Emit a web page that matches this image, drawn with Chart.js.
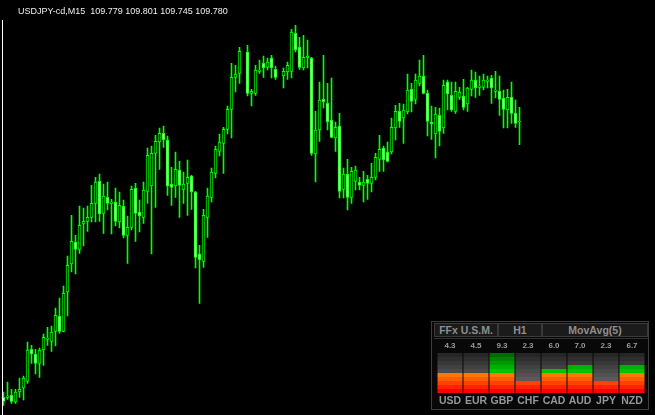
<!DOCTYPE html>
<html>
<head>
<meta charset="utf-8">
<script src="https://cdn.jsdelivr.net/npm/chart.js@4.4.1/dist/chart.umd.min.js"></script>
<style>
    html, body { margin: 0; padding: 0; background: #000; }
    body { width: 655px; height: 415px; position: relative; overflow: hidden; }
    #priceChart { position: absolute; left: 0; top: 0; }
    #leftEdge { position: absolute; left: 2px; top: 20px; width: 1px; height: 395px; background: #fff; }
    #symbolInfo { position: absolute; left: 18px; top: 6px; font: 9px "Liberation Sans", Arial, sans-serif;
        line-height: 11px; color: #eeeeee; white-space: pre; }
    .frame { position: absolute; left: 431px; top: 321px; width: 218px; height: 89px; box-sizing: border-box;
        border: 1px solid #3c3c3c; background: #080808; }
    .cell { position: absolute; top: 323px; height: 14px; box-sizing: border-box; border: 1px solid #3a3a3a;
        background: #1b1b1b; color: #8e8e8e; font: bold 10.5px "Liberation Sans", Arial, sans-serif;
        line-height: 12px; text-align: center; }
    .sep { position: absolute; left: 434px; top: 338px; width: 214px; height: 1px; background: #303030; }
    #ffxChart { position: absolute; left: 436px; top: 340px; }
</style>
</head>
<body>
<canvas id="priceChart" width="655" height="415"></canvas>
<div id="leftEdge"></div>
<div id="symbolInfo">USDJPY-cd,M15  109.779 109.801 109.745 109.780</div>

<div class="frame"></div>
<div class="cell" style="left:434px;width:64px;">FFx U.S.M.</div>
<div class="cell" style="left:498px;width:44px;">H1</div>
<div class="cell" style="left:542px;width:106px;">MovAvg(5)</div>
<div class="sep"></div>
<canvas id="ffxChart" width="210" height="70"></canvas>

<script>
// USDJPY M15 candles, oldest first (two missing bars left as null)
const opens = [
    109.366, 109.366, 109.369, 109.359, 109.374, 109.380, 109.390, 109.438, 109.431, 109.417,
    109.437, 109.453, 109.450, 109.465, 109.488, 109.465, 109.524, 109.566, 109.599, 109.588,
    109.626, 109.630, 109.636, 109.657, 109.690, 109.642, 109.666, 109.657, 109.659, 109.629,
    109.653, 109.609, 109.621, 109.680, 109.644, 109.636, 109.675, 109.683, 109.732, 109.749,
    109.762, 109.752, 109.686, 109.683, 109.707, 109.678, 109.687, 109.698, 109.674, 109.581,
    109.570, 109.636, 109.666, 109.702, 109.735, 109.747, 109.768, 109.798, 109.846, 109.852,
    null, 109.884, 109.822, 109.822, 109.855, 109.867, 109.861, 109.875, 109.858, null,
    109.848, 109.854, 109.855, 109.912, 109.891, 109.860, 109.875, 109.875, 109.731, 109.767,
    109.813, 109.807, 109.782, 109.755, 109.773, 109.678, 109.701, 109.666, 109.690, 109.689,
    109.684, 109.693, 109.687, 109.696, 109.723, 109.740, 109.734, 109.734, 109.770, 109.795,
    109.785, 109.794, 109.828, 109.813, 109.837, 109.848, 109.822, 109.779, 109.761, 109.789,
    109.770, 109.839, 109.819, 109.795, 109.816, 109.818, 109.806, 109.828, 109.842, 109.831,
    109.831, 109.840, 109.845, 109.825, 109.825, 109.815, 109.797, 109.816, 109.792, 109.779
];
const highs = [
    109.374, 109.389, 109.378, 109.378, 109.395, 109.398, 109.449, 109.444, 109.438, 109.440,
    109.461, 109.471, 109.473, 109.500, 109.515, 109.533, 109.578, 109.639, 109.609, 109.653,
    109.650, 109.653, 109.684, 109.696, 109.701, 109.686, 109.689, 109.663, 109.680, 109.674,
    109.662, 109.638, 109.683, 109.687, 109.662, 109.689, 109.740, 109.743, 109.759, 109.770,
    109.773, 109.758, 109.711, 109.734, 109.720, 109.704, 109.722, 109.699, 109.675, 109.594,
    109.648, 109.680, 109.710, 109.743, 109.761, 109.771, 109.803, 109.867, 109.864, 109.891,
    null, 109.894, 109.828, 109.864, 109.872, 109.878, 109.875, 109.879, 109.863, null,
    109.860, 109.869, 109.918, 109.924, 109.906, 109.909, 109.902, 109.876, 109.795, 109.839,
    109.879, 109.837, 109.845, 109.779, 109.792, 109.710, 109.723, 109.711, 109.713, 109.696,
    109.705, 109.699, 109.717, 109.732, 109.759, 109.743, 109.749, 109.785, 109.804, 109.807,
    109.806, 109.851, 109.837, 109.851, 109.872, 109.879, 109.827, 109.803, 109.801, 109.800,
    109.842, 109.842, 109.839, 109.839, 109.831, 109.843, 109.831, 109.857, 109.854, 109.848,
    109.851, 109.848, 109.849, 109.855, 109.848, 109.827, 109.828, 109.839, 109.812, 109.801
];
const lows = [
    109.354, 109.363, 109.357, 109.357, 109.366, 109.362, 109.387, 109.417, 109.401, 109.396,
    109.414, 109.444, 109.435, 109.443, 109.462, 109.464, 109.488, 109.554, 109.551, 109.582,
    109.593, 109.615, 109.629, 109.629, 109.630, 109.612, 109.647, 109.611, 109.623, 109.620,
    109.605, 109.567, 109.617, 109.600, 109.614, 109.627, 109.657, 109.581, 109.651, 109.708,
    109.741, 109.669, 109.654, 109.666, 109.636, 109.657, 109.639, 109.648, 109.560, 109.507,
    109.561, 109.606, 109.659, 109.695, 109.728, 109.702, 109.761, 109.755, 109.824, 109.837,
    null, 109.818, 109.803, 109.819, 109.852, 109.846, 109.857, 109.845, 109.843, null,
    109.830, 109.843, 109.845, 109.884, 109.858, 109.857, 109.860, 109.729, 109.689, 109.750,
    109.800, 109.767, 109.755, 109.735, 109.665, 109.665, 109.647, 109.657, 109.677, 109.677,
    109.659, 109.663, 109.674, 109.692, 109.705, 109.705, 109.719, 109.731, 109.752, 109.771,
    109.747, 109.791, 109.794, 109.806, 109.833, 109.821, 109.758, 109.753, 109.725, 109.743,
    109.762, 109.797, 109.795, 109.792, 109.813, 109.797, 109.795, 109.818, 109.816, 109.819,
    109.827, 109.830, 109.807, 109.815, 109.789, 109.770, 109.770, 109.777, 109.771, 109.745
];
const closes = [
    109.360, 109.368, 109.360, 109.374, 109.378, 109.395, 109.437, 109.431, 109.417, 109.437,
    109.456, 109.455, 109.464, 109.489, 109.465, 109.522, 109.564, 109.600, 109.588, 109.624,
    109.630, 109.636, 109.657, 109.689, 109.641, 109.668, 109.657, 109.659, 109.630, 109.654,
    109.609, 109.621, 109.678, 109.642, 109.638, 109.677, 109.729, 109.732, 109.750, 109.762,
    109.752, 109.683, 109.681, 109.708, 109.684, 109.686, 109.696, 109.674, 109.576, 109.572,
    109.639, 109.668, 109.704, 109.738, 109.749, 109.768, 109.798, 109.846, 109.851, 109.885,
    null, 109.822, 109.825, 109.857, 109.857, 109.860, 109.869, 109.860, 109.846, null,
    109.855, 109.864, 109.914, 109.887, 109.861, 109.876, 109.878, 109.732, 109.767, 109.812,
    109.809, 109.779, 109.756, 109.771, 109.675, 109.701, 109.666, 109.705, 109.707, 109.684,
    109.689, 109.687, 109.696, 109.726, 109.738, 109.722, 109.720, 109.771, 109.795, 109.780,
    109.797, 109.827, 109.810, 109.842, 109.848, 109.822, 109.780, 109.776, 109.791, 109.765,
    109.834, 109.821, 109.797, 109.825, 109.824, 109.801, 109.830, 109.842, 109.830, 109.833,
    109.842, 109.842, 109.830, 109.827, 109.813, 109.798, 109.816, 109.792, 109.777, 109.780
];

// currency strength panel
const currencies = ['USD', 'EUR', 'GBP', 'CHF', 'CAD', 'AUD', 'JPY', 'NZD'];
const strength = [4.3, 4.5, 9.3, 2.3, 6.0, 7.0, 2.3, 6.7];

const CANDLE_LINE = '#00ff00';
const BULL_FILL = '#000000';
const BEAR_FILL = '#c8ffc8';

const barLabels = opens.map((_, i) => i);
const wickData = lows.map((low, i) => low === null ? null : [low, highs[i]]);
const bodyData = opens.map((open, i) => open === null ? null : [open, closes[i]]);
const bodyFill = opens.map((open, i) => closes[i] >= open ? BULL_FILL : BEAR_FILL);

const priceChart = new Chart(document.getElementById('priceChart'), {
    type: 'bar',
    data: {
        labels: barLabels,
        datasets: [{
            label: 'wick',
            data: wickData,
            backgroundColor: CANDLE_LINE,
            barThickness: 1,
            grouped: false,
            order: 2
        }, {
            label: 'body',
            data: bodyData,
            backgroundColor: bodyFill,
            borderColor: CANDLE_LINE,
            borderWidth: 1,
            borderSkipped: false,
            barThickness: 3,
            minBarLength: 1,
            grouped: false,
            order: 1
        }]
    },
    options: {
        responsive: false,
        animation: false,
        devicePixelRatio: 1,
        layout: { padding: { left: 1.5, right: 133.5, top: 0, bottom: 0 } },
        plugins: {
            legend: { display: false },
            tooltip: { enabled: false }
        },
        scales: {
            x: { display: false, offset: true },
            y: { display: false, min: 109.3395, max: 109.962 }
        }
    }
});

// panel colours, bottom segment first
const levelColors = ['#ff0000', '#ff2200', '#ff4200', '#ff5e00', '#ff7800',
                     '#00c400', '#00b000', '#009a00', '#008200', '#006a00'];
const grayColors = ['#727272', '#6a6a6a', '#626262', '#5a5a5a', '#525252',
                    '#4a4a4a', '#414141', '#383838', '#2f2f2f', '#262626'];

function stepGradient(chart, colors) {
    const area = chart.chartArea;
    if (!area) return colors[0];
    const g = chart.ctx.createLinearGradient(0, area.bottom, 0, area.top);
    colors.forEach((c, i) => {
        g.addColorStop(i / colors.length, c);
        g.addColorStop((i + 1) / colors.length - 0.001, c);
    });
    return g;
}

const filledSegments = strength.map(v => Math.ceil(v));
const emptySegments = filledSegments.map(n => 10 - n);

const panelFont = { family: 'Liberation Sans', weight: 'bold' };

const ffxChart = new Chart(document.getElementById('ffxChart'), {
    type: 'bar',
    data: {
        labels: currencies,
        datasets: [{
            data: filledSegments,
            backgroundColor: ctx => stepGradient(ctx.chart, levelColors)
        }, {
            data: emptySegments,
            backgroundColor: ctx => stepGradient(ctx.chart, grayColors)
        }]
    },
    options: {
        responsive: false,
        animation: false,
        devicePixelRatio: 1,
        layout: { padding: { left: 1, right: 1, top: 0, bottom: 0 } },
        datasets: { bar: { categoryPercentage: 1, barPercentage: 25 / 26, borderWidth: 0 } },
        plugins: {
            legend: { display: false },
            tooltip: { enabled: false }
        },
        scales: {
            x: {
                stacked: true,
                offset: true,
                grid: { display: false, drawTicks: false },
                border: { display: false },
                ticks: {
                    color: '#969696', padding: 2, autoSkip: false,
                    minRotation: 0, maxRotation: 0,
                    font: { ...panelFont, size: 10.5 }
                },
                afterFit: scale => { scale.height = 17; }
            },
            top: {
                type: 'category',
                position: 'top',
                labels: strength.map(v => v.toFixed(1)),
                offset: true,
                grid: { display: false, drawTicks: false },
                border: { display: false },
                ticks: {
                    color: '#9a9a9a', padding: 2, autoSkip: false,
                    minRotation: 0, maxRotation: 0,
                    font: { ...panelFont, size: 8 }
                },
                afterFit: scale => { scale.height = 13; }
            },
            y: { stacked: true, min: 0, max: 10, display: false }
        }
    }
});
</script>
</body>
</html>
